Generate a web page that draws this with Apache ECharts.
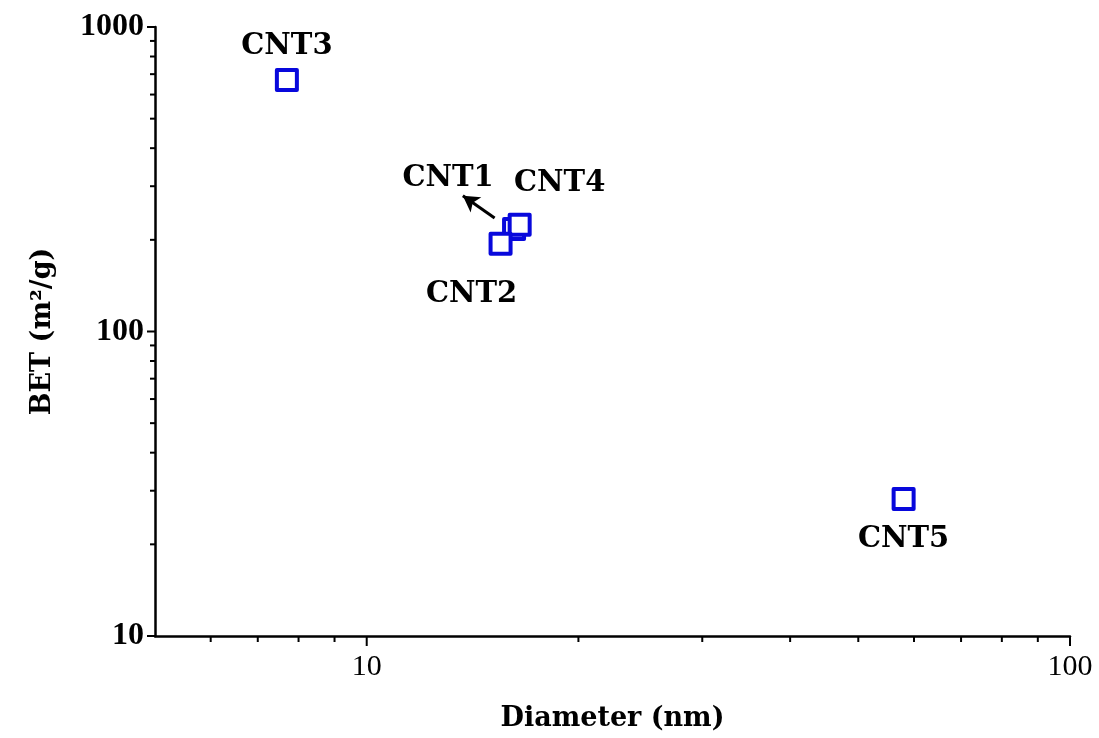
<!DOCTYPE html>
<html>
<head>
<meta charset="utf-8">
<script src="https://cdn.jsdelivr.net/npm/echarts@6/dist/echarts.min.js"></script>
<style>html,body{margin:0;padding:0;background:#fff;}#c{width:1099px;height:738px;}</style>
</head>
<body>
<div id="c"></div>
<script>
// ---- data ----
const names = ['CNT1', 'CNT4', 'CNT2', 'CNT3', 'CNT5'];
const diameters = [16.2, 16.5, 15.5, 7.7, 58];
const bet = [217, 224, 194, 670, 28.2];
// arrow from CNT1 point toward its label (data coords)
const arrowFrom = [15.2, 236];
const arrowTo = [13.7, 279];
// axis ranges & ticks
const xRange = [5, 100];
const yRange = [10, 1000];
const xMajorTicks = [10, 100];
const xMinorTicks = [6, 7, 8, 9, 20, 30, 40, 50, 60, 70, 80, 90];
const yMajorTicks = [10, 100, 1000];
const yMinorTicks = [20, 30, 40, 50, 60, 70, 80, 90, 200, 300, 400, 500, 600, 700, 800, 900];

// label offsets (styling)
const labelOffsets = {
  CNT1: [-66, -51], CNT4: [40, -41], CNT2: [-29, 51], CNT3: [0, -33], CNT5: [0, 41]
};

const serif = '"DejaVu Serif", "Liberation Serif", serif';
const blue = '#0808dc';

const chart = echarts.init(document.getElementById('c'), null, {renderer: 'canvas'});

const pointData = names.map((n, i) => ({
  name: n,
  value: [diameters[i], bet[i]],
  label: {
    show: true, position: 'inside', formatter: n, offset: labelOffsets[n],
    fontFamily: serif, fontWeight: 'bold', fontSize: 29, color: '#000'
  }
}));

function isPow10(v) { const l = Math.log10(v); return Math.abs(l - Math.round(l)) < 1e-9; }

const xTickData = xMajorTicks.map(v => [v, 10]).concat(xMinorTicks.map(v => [v, 6]));
const yTickData = yMajorTicks.map(v => [v, 8]).concat(yMinorTicks.map(v => [v, 5]));

chart.setOption({
  animation: false,
  backgroundColor: '#fff',
  grid: {left: 155, right: 29, top: 27, bottom: 102, containLabel: false, outerBoundsMode: 'none'},
  xAxis: {
    type: 'log', logBase: 10, min: xRange[0], max: xRange[1],
    name: 'Diameter (nm)', nameLocation: 'middle', nameGap: 69,
    nameTextStyle: {fontFamily: serif, fontWeight: 'bold', fontSize: 27, color: '#000'},
    axisLine: {show: true, lineStyle: {color: '#000', width: 2.5}},
    axisTick: {show: false},
    splitLine: {show: false},
    axisLabel: {
      margin: 16, fontFamily: '"Liberation Serif", serif', fontSize: 30, color: '#000',
      formatter: v => (isPow10(v) ? String(Math.round(v)) : '')
    }
  },
  yAxis: {
    type: 'log', logBase: 10, min: yRange[0], max: yRange[1],
    name: 'BET (m²/g)', nameLocation: 'middle', nameGap: 99,
    nameTextStyle: {fontFamily: serif, fontWeight: 'bold', fontSize: 27, color: '#000'},
    axisLine: {show: true, lineStyle: {color: '#000', width: 2.5}},
    axisTick: {show: false},
    splitLine: {show: false},
    axisLabel: {
      margin: 11, fontFamily: '"Liberation Serif", serif', fontWeight: 'bold', fontSize: 32, color: '#000',
      formatter: v => (isPow10(v) ? String(Math.round(v)) : '')
    }
  },
  series: [
    {
      type: 'custom', silent: true, clip: false, z: 1,
      data: xTickData,
      renderItem: (params, api) => {
        const p = api.coord([api.value(0), yRange[0]]);
        const len = api.value(1);
        return {type: 'line', shape: {x1: p[0], y1: p[1], x2: p[0], y2: p[1] + len},
          style: {stroke: '#000', lineWidth: 2}};
      }
    },
    {
      type: 'custom', silent: true, clip: false, z: 1,
      data: yTickData.map(d => [xRange[0], d[0], d[1]]),
      renderItem: (params, api) => {
        const p = api.coord([api.value(0), api.value(1)]);
        const len = api.value(2);
        return {type: 'line', shape: {x1: p[0] - len, y1: p[1], x2: p[0], y2: p[1]},
          style: {stroke: '#000', lineWidth: 2}};
      }
    },
    {
      type: 'scatter', z: 3,
      symbol: 'rect', symbolSize: 20,
      itemStyle: {color: '#fff', borderColor: blue, borderWidth: 4, borderJoin: 'round', opacity: 1},
      data: pointData,
      markLine: {
        silent: true, animation: false,
        symbol: ['none', 'arrow'], symbolSize: [14, 16],
        label: {show: false},
        lineStyle: {color: '#000', width: 3, type: 'solid'},
        data: [[{coord: arrowFrom}, {coord: arrowTo}]]
      }
    }
  ]
});
</script>
</body>
</html>
